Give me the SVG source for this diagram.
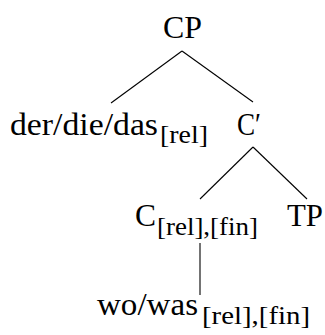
<svg xmlns="http://www.w3.org/2000/svg" width="325" height="335" viewBox="0 0 325 335">
<style>
text{font-family:"Liberation Serif","Times New Roman",serif;fill:#000}
.m{font-size:32px}
.s{font-size:26px}
.e{stroke:#000;stroke-width:1.1;fill:none}
</style>
<rect width="325" height="335" fill="#fff"/>
<g id="edges">
<line class="e" x1="182" y1="51" x2="111" y2="103"/>
<line class="e" x1="182" y1="51" x2="253" y2="102"/>
<line class="e" x1="253" y1="147" x2="200" y2="199"/>
<line class="e" x1="253" y1="147" x2="307" y2="199"/>
<line class="e" x1="200" y1="243" x2="200" y2="295"/>
</g>
<g id="CP"><text class="m" x="163" y="38" textLength="39" lengthAdjust="spacingAndGlyphs">CP</text></g>
<g id="rel-pron"><text class="m" x="10" y="135" textLength="148" lengthAdjust="spacingAndGlyphs">der/die/das</text><text class="s" x="160" y="143" textLength="48" lengthAdjust="spacingAndGlyphs">[rel]</text></g>
<g id="Cbar"><text class="m" x="237" y="135" textLength="24" lengthAdjust="spacingAndGlyphs">C′</text></g>
<g id="C"><text class="m" x="135" y="226" textLength="21" lengthAdjust="spacingAndGlyphs">C</text><text class="s" x="157" y="235" textLength="101" lengthAdjust="spacingAndGlyphs">[rel],[fin]</text></g>
<g id="TP"><text class="m" x="287" y="226" textLength="36" lengthAdjust="spacingAndGlyphs">TP</text></g>
<g id="wo"><text class="m" x="97" y="315" textLength="101" lengthAdjust="spacingAndGlyphs">wo/was</text><text class="s" x="202" y="324" textLength="108" lengthAdjust="spacingAndGlyphs">[rel],[fin]</text></g>
</svg>
